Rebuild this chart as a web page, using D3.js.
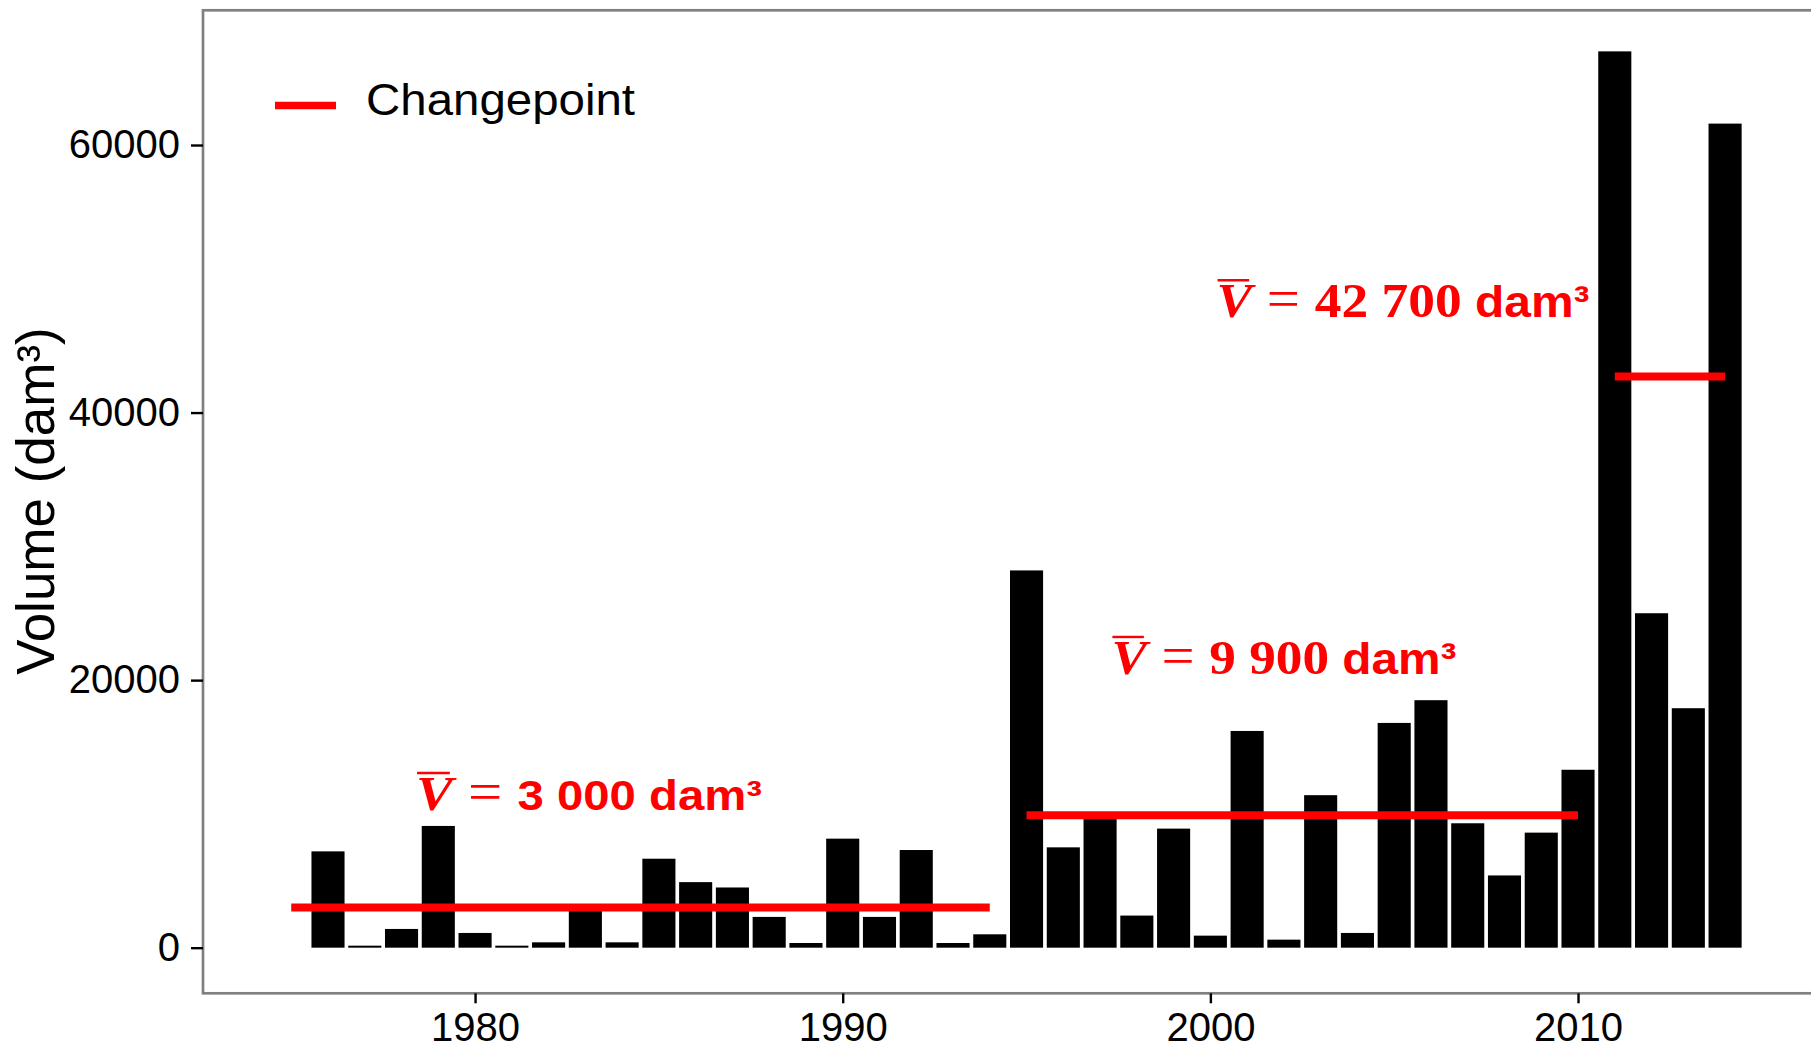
<!DOCTYPE html>
<html>
<head>
<meta charset="utf-8">
<script src="https://cdn.jsdelivr.net/npm/d3@7"></script>
<style>
  html, body { margin: 0; padding: 0; background: #fff; }
  svg { display: block; }
</style>
</head>
<body>
<script>
// ---------------- data ----------------
const years = [1976, 1977, 1978, 1979, 1980, 1981, 1982, 1983, 1984, 1985,
               1986, 1987, 1988, 1989, 1990, 1991, 1992, 1993, 1994, 1995,
               1996, 1997, 1998, 1999, 2000, 2001, 2002, 2003, 2004, 2005,
               2006, 2007, 2008, 2009, 2010, 2011, 2012, 2013, 2014];
const volumes = [7200, 150, 1400, 9100, 1100, 150, 400, 2800, 400, 6650,
                 4900, 4500, 2300, 350, 8150, 2300, 7300, 350, 1000, 28200,
                 7500, 9700, 2400, 8900, 900, 16200, 600, 11400, 1100, 16800,
                 18500, 9300, 5400, 8600, 13300, 67000, 25000, 17900, 61600];

// changepoint segments (mean of each regime)
const segStart = [1975, 1995, 2011];
const segEnd   = [1994, 2010, 2014];
const segMean  = [3000, 9900, 42700];

// annotation texts and their anchors (data coordinates)
const labelNumbers = ["3 000", "9 900", "42 700"];
const labelYear    = [1983.1, 2002.0, 2005.24];
const labelValue   = [10290, 20460, 47120];

const yTicks = [0, 20000, 40000, 60000];
const xTicks = [1980, 1990, 2000, 2010];
const yTitle = "Volume (dam³)";
const legendLabel = "Changepoint";

// ---------------- layout ----------------
const W = 1811, H = 1049;
const panel = { left: 203, top: 10.3, right: 1817, bottom: 993.3 };

const svg = d3.select("body").append("svg")
  .attr("width", W).attr("height", H);

const x = d3.scaleLinear().domain([1972.6, 2016.5]).range([panel.left, panel.right]);
const y = d3.scaleLinear().domain([-3410, 70070]).range([panel.bottom, panel.top]);

const sans = "'Liberation Sans', Arial, sans-serif";
const serif = "'Liberation Serif', 'Times New Roman', serif";

// bars
const data = years.map((yr, i) => ({ year: yr, v: volumes[i] }));
const barW = 0.9;
svg.append("g").selectAll("rect").data(data).join("rect")
  .attr("x", d => x(d.year - barW / 2))
  .attr("width", d => x(d.year + barW / 2) - x(d.year - barW / 2))
  .attr("y", d => y(d.v))
  .attr("height", d => y(0) - y(d.v))
  .attr("fill", "#000");

// changepoint segments
svg.append("g").selectAll("line").data(segMean).join("line")
  .attr("x1", (d, i) => x(segStart[i]))
  .attr("x2", (d, i) => x(segEnd[i]))
  .attr("y1", d => y(d)).attr("y2", d => y(d))
  .attr("stroke", "#ff0000").attr("stroke-width", 8);

// panel border
svg.append("rect")
  .attr("x", panel.left).attr("y", panel.top)
  .attr("width", panel.right - panel.left)
  .attr("height", panel.bottom - panel.top)
  .attr("fill", "none").attr("stroke", "#808080").attr("stroke-width", 2.7);

// axes
const yAxis = svg.append("g")
  .attr("transform", `translate(${panel.left},0)`)
  .call(d3.axisLeft(y).tickValues(yTicks).tickSize(12).tickPadding(11).tickFormat(d3.format("d")));
const xAxis = svg.append("g")
  .attr("transform", `translate(0,${panel.bottom})`)
  .call(d3.axisBottom(x).tickValues(xTicks).tickSize(10).tickPadding(9).tickFormat(d3.format("d")));
[yAxis, xAxis].forEach(g => {
  g.select(".domain").remove();
  g.selectAll(".tick line").attr("stroke", "#000").attr("stroke-width", 2.4);
  g.selectAll(".tick text")
    .attr("fill", "#000")
    .style("font-family", sans)
    .style("font-size", "40px");
});

// y title
svg.append("text")
  .attr("transform", `translate(54,501) rotate(-90)`)
  .attr("text-anchor", "middle")
  .style("font-family", sans)
  .style("font-size", "53px")
  .attr("fill", "#000")
  .text(yTitle);

// legend
svg.append("line")
  .attr("x1", 275).attr("x2", 336)
  .attr("y1", 105.5).attr("y2", 105.5)
  .attr("stroke", "#ff0000").attr("stroke-width", 7.6);
svg.append("text")
  .attr("x", 366).attr("y", 115)
  .attr("textLength", 269).attr("lengthAdjust", "spacingAndGlyphs")
  .style("font-family", sans).style("font-size", "44px")
  .attr("fill", "#000")
  .text(legendLabel);

// annotations
const labelWidths = [346, 345, 373];
labelNumbers.forEach((num, i) => {
  const t = svg.append("text")
    .attr("x", x(labelYear[i]))
    .attr("y", y(labelValue[i]))
    .attr("text-anchor", "middle")
    .attr("fill", "#ff0000")
    .attr("textLength", labelWidths[i])
    .attr("lengthAdjust", "spacingAndGlyphs");
  t.append("tspan").text("V")
    .style("font-family", serif).style("font-weight", "bold").style("font-style", "italic")
    .style("font-size", "49px");
  t.append("tspan").text(" = ")
    .style("font-family", serif).style("font-size", "54px");
  const isSans = i === 0;
  t.append("tspan").text(num)
    .style("font-family", isSans ? sans : serif).style("font-weight", "bold")
    .style("font-size", isSans ? "42px" : "49px");
  t.append("tspan").text(" dam³")
    .style("font-family", sans).style("font-weight", "bold")
    .style("font-size", isSans ? "42px" : "44px");
  // overline on V
  const node = t.node();
  const s = node.getStartPositionOfChar(0);
  const e = node.getEndPositionOfChar(0);
  const by = y(labelValue[i]);
  svg.append("line")
    .attr("x1", s.x + 1).attr("x2", e.x - 3)
    .attr("y1", by - 37).attr("y2", by - 37)
    .attr("stroke", "#ff0000").attr("stroke-width", 2.4);
});
</script>
</body>
</html>
